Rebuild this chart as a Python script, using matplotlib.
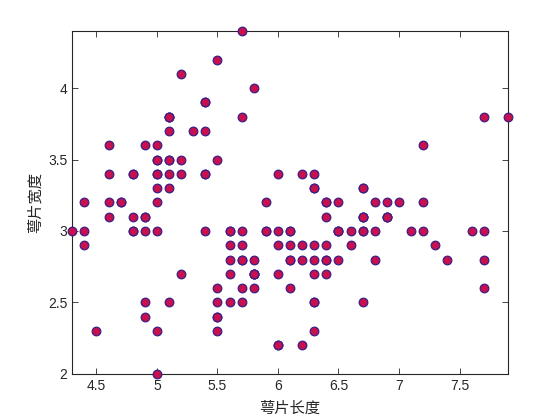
import matplotlib
matplotlib.use("Agg")
import matplotlib.pyplot as plt

plt.rcParams['font.family'] = ['Liberation Sans', 'Noto Sans CJK SC', 'DejaVu Sans']

# iris: sepal length / sepal width
sepal_length = [
    5.1, 4.9, 4.7, 4.6, 5.0, 5.4, 4.6, 5.0, 4.4, 4.9, 5.4, 4.8, 4.8, 4.3, 5.8, 5.7, 5.4, 5.1, 5.7, 5.1,
    5.4, 5.1, 4.6, 5.1, 4.8, 5.0, 5.0, 5.2, 5.2, 4.7, 4.8, 5.4, 5.2, 5.5, 4.9, 5.0, 5.5, 4.9, 4.4, 5.1,
    5.0, 4.5, 4.4, 5.0, 5.1, 4.8, 5.1, 4.6, 5.3, 5.0,
    7.0, 6.4, 6.9, 5.5, 6.5, 5.7, 6.3, 4.9, 6.6, 5.2, 5.0, 5.9, 6.0, 6.1, 5.6, 6.7, 5.6, 5.8, 6.2, 5.6,
    5.9, 6.1, 6.3, 6.1, 6.4, 6.6, 6.8, 6.7, 6.0, 5.7, 5.5, 5.5, 5.8, 6.0, 5.4, 6.0, 6.7, 6.3, 5.6, 5.5,
    5.5, 6.1, 5.8, 5.0, 5.6, 5.7, 5.7, 6.2, 5.1, 5.7,
    6.3, 5.8, 7.1, 6.3, 6.5, 7.6, 4.9, 7.3, 6.7, 7.2, 6.5, 6.4, 6.8, 5.7, 5.8, 6.4, 6.5, 7.7, 7.7, 6.0,
    6.9, 5.6, 7.7, 6.3, 6.7, 7.2, 6.2, 6.1, 6.4, 7.2, 7.4, 7.9, 6.4, 6.3, 6.1, 7.7, 6.3, 6.4, 6.0, 6.9,
    6.7, 6.9, 5.8, 6.8, 6.7, 6.7, 6.3, 6.5, 6.2, 5.9,
]
sepal_width = [
    3.5, 3.0, 3.2, 3.1, 3.6, 3.9, 3.4, 3.4, 2.9, 3.1, 3.7, 3.4, 3.0, 3.0, 4.0, 4.4, 3.9, 3.5, 3.8, 3.8,
    3.4, 3.7, 3.6, 3.3, 3.4, 3.0, 3.4, 3.5, 3.4, 3.2, 3.1, 3.4, 4.1, 4.2, 3.1, 3.2, 3.5, 3.6, 3.0, 3.4,
    3.5, 2.3, 3.2, 3.5, 3.8, 3.0, 3.8, 3.2, 3.7, 3.3,
    3.2, 3.2, 3.1, 2.3, 2.8, 2.8, 3.3, 2.4, 2.9, 2.7, 2.0, 3.0, 2.2, 2.9, 2.9, 3.1, 3.0, 2.7, 2.2, 2.5,
    3.2, 2.8, 2.5, 2.8, 2.9, 3.0, 2.8, 3.0, 2.9, 2.6, 2.4, 2.4, 2.7, 2.7, 3.0, 3.4, 3.1, 2.3, 3.0, 2.5,
    2.6, 3.0, 2.6, 2.3, 2.7, 3.0, 2.9, 2.9, 2.5, 2.8,
    3.3, 2.7, 3.0, 2.9, 3.0, 3.0, 2.5, 2.9, 2.5, 3.6, 3.2, 2.7, 3.0, 2.5, 2.8, 3.2, 3.0, 3.8, 2.6, 2.2,
    3.2, 2.8, 2.8, 2.7, 3.3, 3.2, 2.8, 3.0, 2.8, 3.0, 2.8, 3.8, 2.8, 2.8, 2.6, 3.0, 3.4, 3.1, 3.0, 3.1,
    3.1, 3.1, 2.7, 3.2, 3.3, 3.0, 2.5, 3.0, 3.4, 3.0,
]
x_ticks = [4.5, 5, 5.5, 6, 6.5, 7, 7.5]
y_ticks = [2, 2.5, 3, 3.5, 4]

fig = plt.figure(figsize=(5.6, 4.2), dpi=100)
ax = fig.add_axes([0.129, 0.110, 0.778, 0.816])

ax.plot(sepal_length, sepal_width, 'o', markersize=6.2,
        markerfacecolor='#c8104e', markeredgecolor='#3b1f86',
        markeredgewidth=0.9, linestyle='none', clip_on=False, zorder=3)

ax.set_xlim(4.3, 7.9)
ax.set_ylim(2, 4.4)
ax.set_xticks(x_ticks)
ax.set_xticklabels(['4.5', '5', '5.5', '6', '6.5', '7', '7.5'])
ax.set_yticks(y_ticks)
ax.set_yticklabels(['2', '2.5', '3', '3.5', '4'])
ax.tick_params(direction='in', top=True, right=True, length=4, width=0.6,
               labelsize=10, colors='#262626')
for s in ax.spines.values():
    s.set_linewidth(0.8)
    s.set_color('#262626')

ax.set_xlabel('萼片长度', fontsize=11, color='#262626', labelpad=5,
              family=['Noto Sans CJK SC', 'DejaVu Sans'])
ax.set_ylabel('萼片宽度', fontsize=11, color='#262626', labelpad=3,
              family=['Noto Sans CJK SC', 'DejaVu Sans'])

fig.savefig('out.png', dpi=100)
